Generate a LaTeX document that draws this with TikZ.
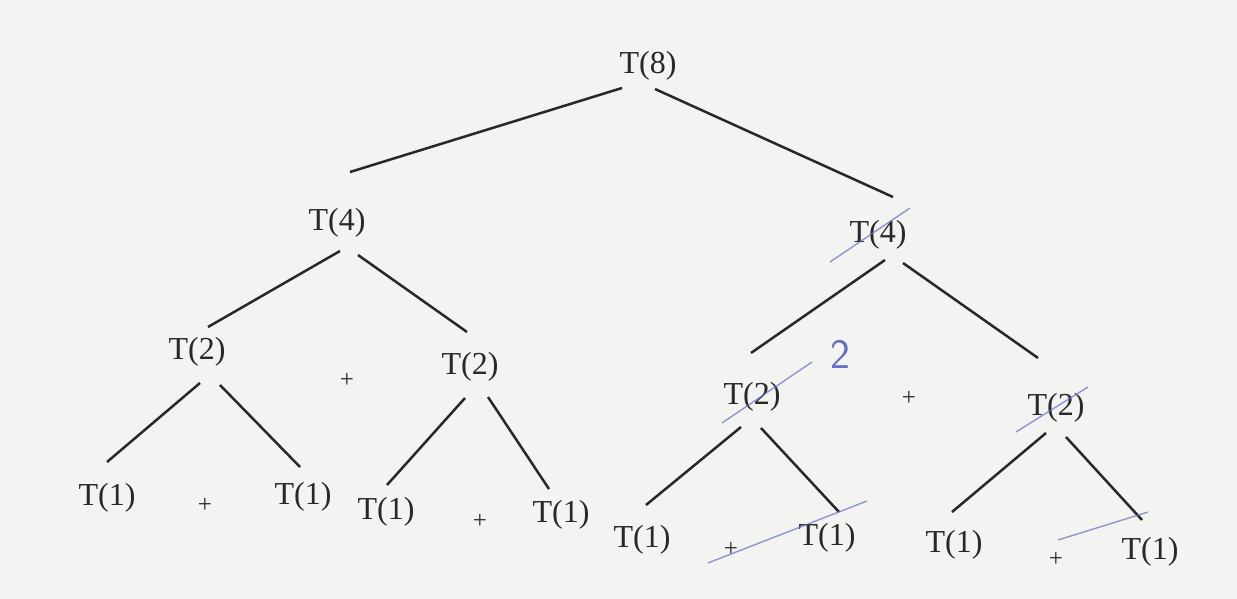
\documentclass[tikz,border=0pt]{standalone}
\usepackage{fontspec}
\setmainfont{Liberation Serif}
\usepackage{tikz}
\usetikzlibrary{calc}
\definecolor{paper}{RGB}{243,243,241}
\definecolor{ink}{RGB}{40,40,40}
\definecolor{pen}{RGB}{100,110,195}

\begin{document}
\begin{tikzpicture}[
    x=0.5pt, y=-0.5pt,
    term/.style={inner sep=0pt, text=ink, font=\fontsize{16}{18}\selectfont},
    plus/.style={inner sep=0pt, text=ink, font=\fontsize{12.5}{14}\selectfont},
    edge/.style={draw=ink, line width=1.25pt},
    penline/.style={draw=pen, line width=0.7pt, opacity=0.7},
  ]
    % paper
    \fill[paper] (0,0) rectangle (1237,599);
    \useasboundingbox (0,0) rectangle (1237,599);

    % Levels
    \node[term] (t8) at (648,66) {T(8)};

    \node[term] (t4a) at (337,223) {T(4)};
    \node[term] (t4b) at (878,235) {T(4)};

    \node[term] (t2a) at (197,352) {T(2)};
    \node[term] (t2b) at (470,367) {T(2)};
    \node[term] (t2c) at (752,397) {T(2)};
    \node[term] (t2d) at (1056,408) {T(2)};

    \node[term] (t1a) at (107,498) {T(1)};
    \node[term] (t1b) at (303,497) {T(1)};
    \node[term] (t1c) at (386,512) {T(1)};
    \node[term] (t1d) at (561,515) {T(1)};
    \node[term] (t1e) at (642,540) {T(1)};
    \node[term] (t1f) at (827,538) {T(1)};
    \node[term] (t1g) at (954,545) {T(1)};
    \node[term] (t1h) at (1150,552) {T(1)};

    % plus signs
    \node[plus] (p1) at (347,380) {+};
    \node[plus] (p2) at (205,505) {+};
    \node[plus] (p3) at (480,521) {+};
    \node[plus] (p4) at (909,398) {+};
    \node[plus] (p5) at (731,549) {+};
    \node[plus] (p6) at (1056,559) {+};

    % Edges
    \draw[edge] ($(t8)+(-26,22)$) -- ($(t4a)+(13,-51)$);
    \draw[edge] ($(t8)+(7,23)$) -- ($(t4b)+(15,-38)$);
    \draw[edge] ($(t4a)+(3,28)$) -- ($(t2a)+(11,-25)$);
    \draw[edge] ($(t4a)+(21,32)$) -- ($(t2b)+(-3,-35)$);
    \draw[edge] ($(t4b)+(7,25)$) -- ($(t2c)+(-1,-44)$);
    \draw[edge] ($(t4b)+(25,28)$) -- ($(t2d)+(-18,-50)$);
    \draw[edge] ($(t2a)+(3,31)$) -- ($(t1a)+(0,-36)$);
    \draw[edge] ($(t2a)+(23,33)$) -- ($(t1b)+(-3,-30)$);
    \draw[edge] ($(t2b)+(-5,31)$) -- ($(t1c)+(1,-27)$);
    \draw[edge] ($(t2b)+(18,30)$) -- ($(t1d)+(-12,-26)$);
    \draw[edge] ($(t2c)+(-11,30)$) -- ($(t1e)+(4,-35)$);
    \draw[edge] ($(t2c)+(9,31)$) -- ($(t1f)+(12,-26)$);
    \draw[edge] ($(t2d)+(-10,25)$) -- ($(t1g)+(-2,-33)$);
    \draw[edge] ($(t2d)+(10,29)$) -- ($(t1h)+(-8,-32)$);

    % handwritten notes
    \node[text=pen, font=\fontsize{21}{24}\selectfont\sffamily] (two) at (840,354) {2};
    \draw[penline] (830,262) -- (910,208);
    \draw[penline] (722,423) -- (812,362);
    \draw[penline] (708,563) -- (867,501);
    \draw[penline] (1016,432) -- (1088,387);
    \draw[penline] (1058,540) -- (1148,512);
  \end{tikzpicture}
\end{document}
